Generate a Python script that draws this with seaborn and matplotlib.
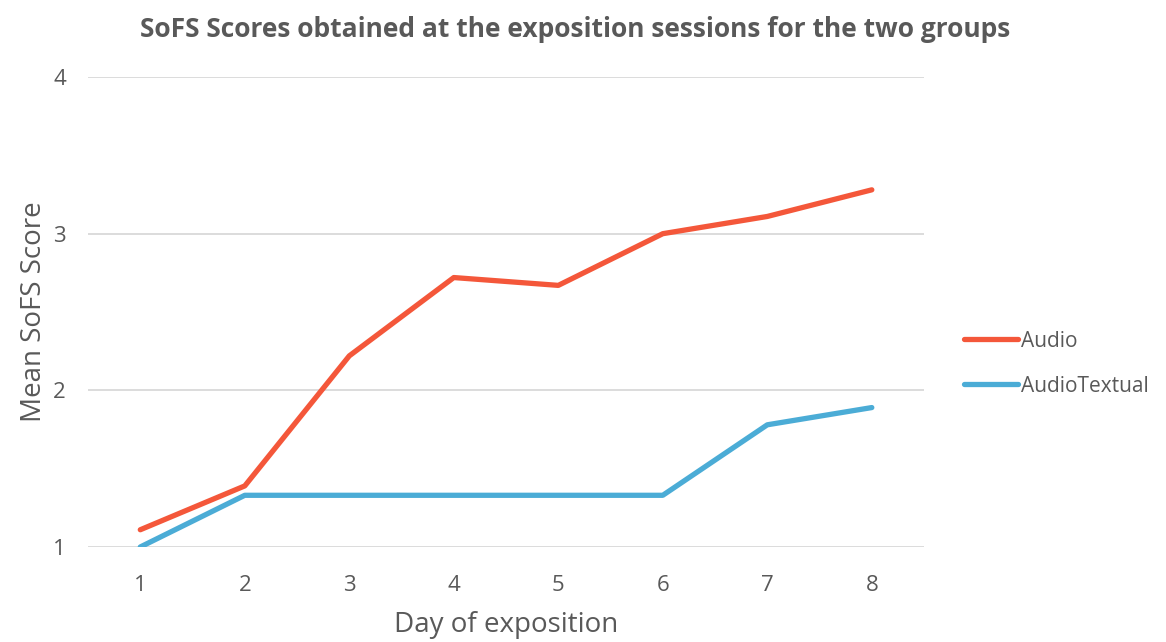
import pandas as pd
import matplotlib
matplotlib.use('Agg')
import matplotlib.pyplot as plt
import seaborn as sns

days = [1, 2, 3, 4, 5, 6, 7, 8]
audio = [1.11, 1.39, 2.22, 2.72, 2.67, 3.00, 3.11, 3.28]
audio_textual = [1.00, 1.33, 1.33, 1.33, 1.33, 1.33, 1.78, 1.89]
groups = ['Audio', 'AudioTextual']
colors = ['#F4573A', '#4BACD6']

df = pd.DataFrame({
    'day': days * 2,
    'score': audio + audio_textual,
    'group': [groups[0]] * len(days) + [groups[1]] * len(days),
})

sns.set_style('white')
plt.rcParams['font.family'] = ['Open Sans', 'DejaVu Sans']
text_col = '#595959'

fig = plt.figure(figsize=(11.66, 6.42), dpi=100)
ax = fig.add_axes([0.0755, 0.148, 0.717, 0.732])

sns.lineplot(data=df, x='day', y='score', hue='group', palette=colors,
             linewidth=3.8, solid_capstyle='round', ax=ax)

ax.set_xlim(0.5, 8.5)
ax.set_ylim(1, 4)
ax.set_xticks(days)
ax.set_yticks([1, 2, 3, 4])
ax.grid(axis='y', color='#D9D9D9', linewidth=1.3)
ax.set_axisbelow(True)
for s in ax.spines.values():
    s.set_visible(False)
ax.tick_params(axis='both', length=0, labelsize=16, colors=text_col)
ax.tick_params(axis='x', pad=20)
ax.tick_params(axis='y', pad=16)

ax.set_xlabel('Day of exposition', fontsize=20, color=text_col, labelpad=11)
ax.set_ylabel('Mean SoFS Score', fontsize=20, color=text_col, labelpad=4)
fig.suptitle('SoFS Scores obtained at the exposition sessions for the two groups',
             x=0.493, y=0.975, fontsize=19, fontweight='bold', color=text_col)

leg = ax.legend(title=None, loc='center left', bbox_to_anchor=(1.025, 0.39),
                frameon=False, fontsize=15, handlelength=2.6, handletextpad=0.15,
                labelspacing=1.15)
for t in leg.get_texts():
    t.set_color(text_col)

plt.savefig('out.png', dpi=100)
